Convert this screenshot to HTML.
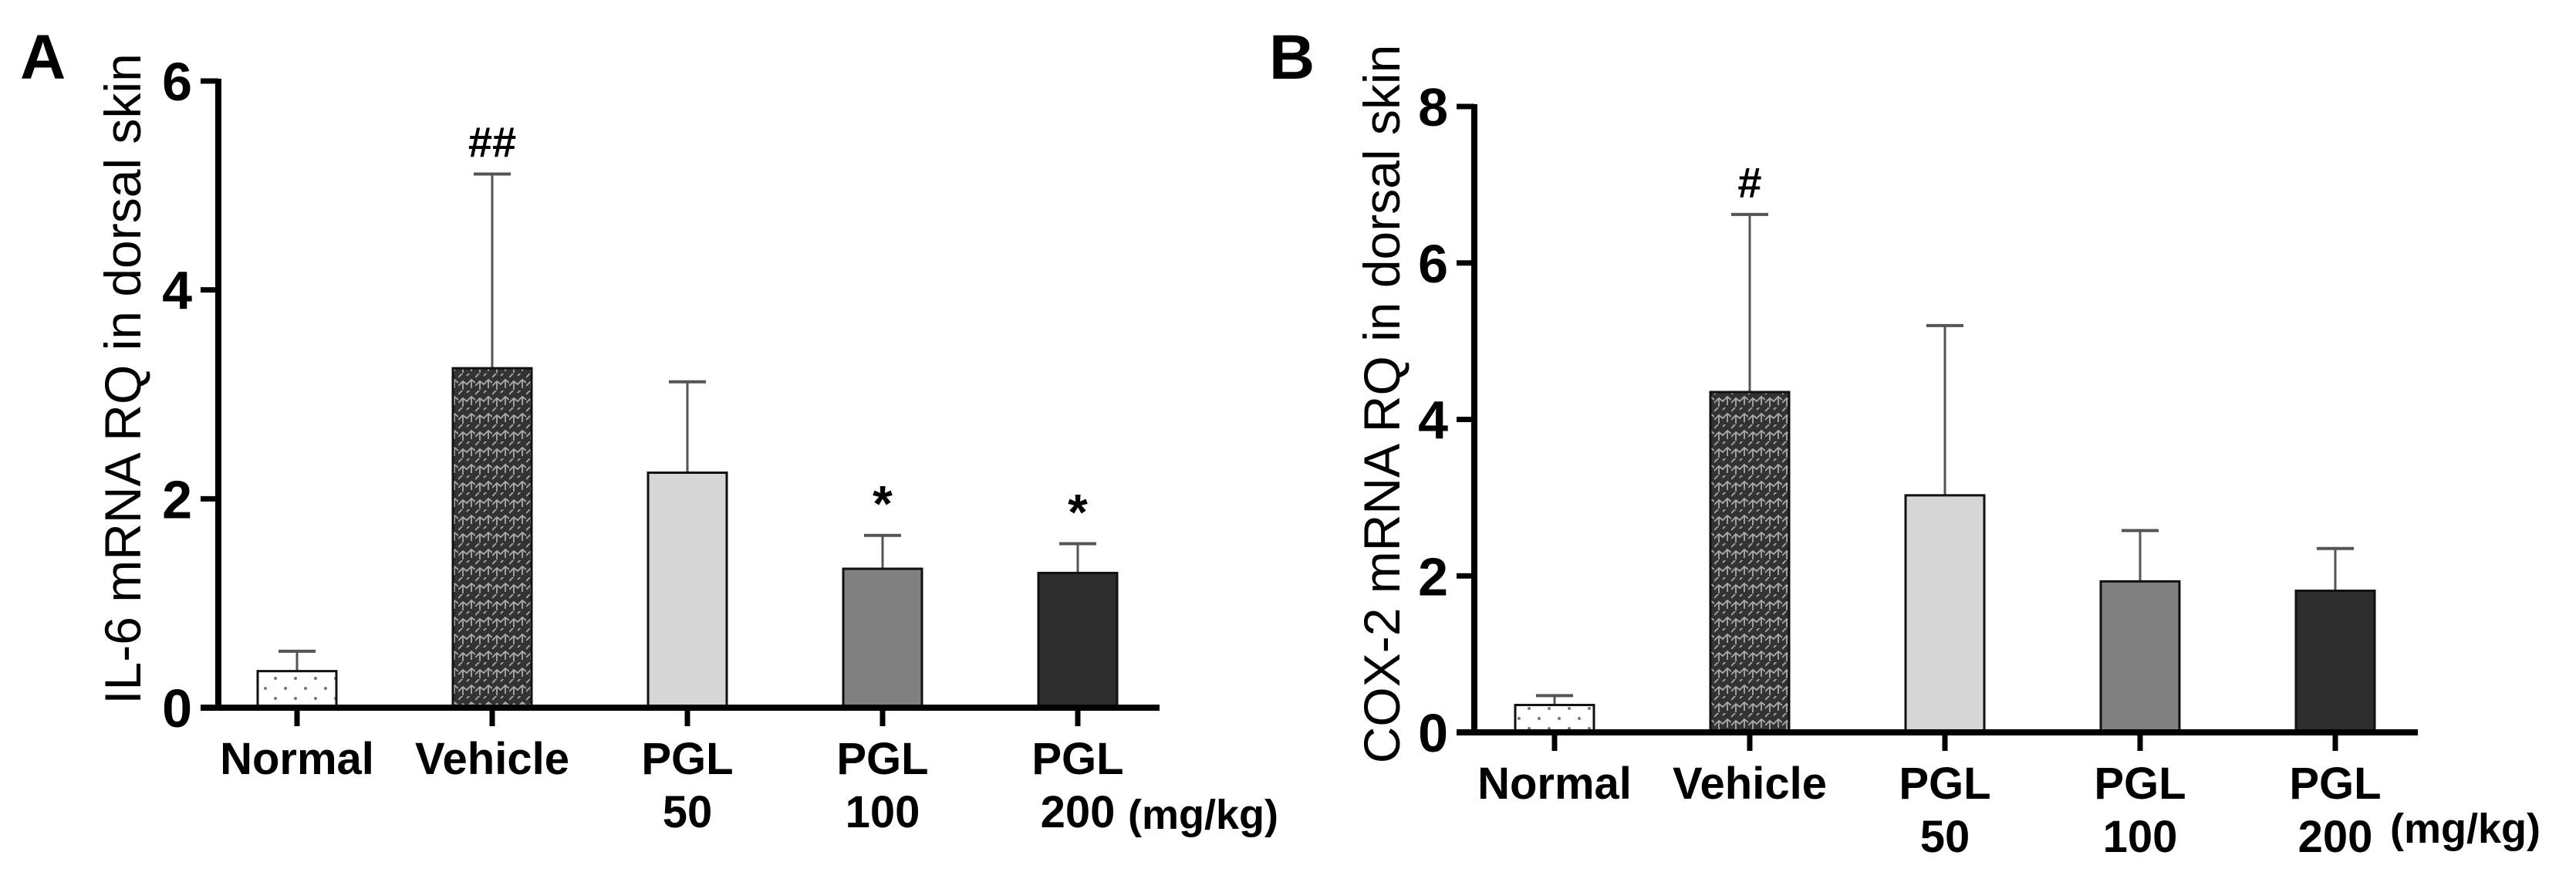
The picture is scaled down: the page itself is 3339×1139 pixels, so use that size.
<!DOCTYPE html>
<html><head><meta charset="utf-8"><style>
html,body{margin:0;padding:0;background:#fff;}
svg{display:block;font-family:"Liberation Sans",Arial,sans-serif;}
</style></head><body>
<svg id="chart" width="3339" height="1139" viewBox="0 0 3339 1139" xmlns="http://www.w3.org/2000/svg">
<defs>
<pattern id="dots" width="26" height="26" patternUnits="userSpaceOnUse">
<rect width="26" height="26" fill="#fff"/><circle cx="6" cy="8" r="2" fill="#777"/><circle cx="19" cy="21" r="2" fill="#777"/>
</pattern>
<pattern id="zig" width="22" height="22" patternUnits="userSpaceOnUse">
<rect width="22" height="22" fill="#333"/>
<path d="M0 16 L6 10 L11 14 L17 8 L22 12 M0 5 L6 -1 M11 3 L17 -3 M6 10 L6 21 M17 8 L17 19" stroke="#aaa" stroke-width="1.8" fill="none"/>
</pattern>
</defs>
<g id="pa"></g>
<g id="pb"></g>
</svg>
<script>
const categories = ["Normal","Vehicle","PGL 50","PGL 100","PGL 200"];
const il6Values = [0.35, 3.25, 2.25, 1.33, 1.29];
const il6Errors = [0.54, 5.11, 3.12, 1.65, 1.57];
const il6Marks = ["", "##", "", "*", "*"];
const il6Ticks = [0, 2, 4, 6];
const cox2Values = [0.35, 4.35, 3.03, 1.93, 1.81];
const cox2Errors = [0.47, 6.62, 5.2, 2.58, 2.35];
const cox2Marks = ["", "#", "", "", ""];
const cox2Ticks = [0, 2, 4, 6, 8];

const NS = "http://www.w3.org/2000/svg";
const fills = ["url(#dots)","url(#zig)","#d6d6d6","#808080","#2e2e2e"];
function mk(parent, tag, attrs, text){
  const e = document.createElementNS(NS, tag);
  for (const k in attrs) e.setAttribute(k, attrs[k]);
  if (text !== undefined) e.textContent = text;
  parent.appendChild(e);
  return e;
}
function panel(g, cfg, values, errors, marks, ticks){
  const yMax = ticks[ticks.length-1];
  const y = v => cfg.y0 - (cfg.y0 - cfg.yTop) * v / yMax;
  const x = i => cfg.x0 + i * cfg.step;
  let t = mk(g, "text", {x: cfg.lx, y: cfg.ly, "font-size": 82, "font-weight": "bold"}, cfg.letter);
  
  
  t = mk(g, "text", {x: 0, y: 0, "font-size": 66, "text-anchor": "middle", transform: `translate(${cfg.tx},${(cfg.yTop+cfg.y0)/2 - 20}) rotate(-90)`}, cfg.title);
  
  
  values.forEach((v, i) => {
    const cx = x(i);
    const top = y(v), et = y(errors[i]);
    let l = mk(g, "line", {x1: cx, y1: top, x2: cx, y2: et, stroke: "#555", "stroke-width": 3});
    
    
    l = mk(g, "line", {x1: cx-24, y1: et, x2: cx+24, y2: et, stroke: "#555", "stroke-width": 4});
    
    
    const r = mk(g, "rect", {x: cx-51, y: top, width: 102, height: cfg.y0 - top, fill: fills[i], stroke: "#111", "stroke-width": 3});
    
    
    if (marks[i]) {
      const m = mk(g, "text", {x: cx, y: marks[i].startsWith("#") ? et - 22 : et - 18, "font-size": marks[i].startsWith("#") ? 56 : 66, "font-weight": "bold", "text-anchor": "middle"}, marks[i]);
      
      
    }
    const tk = mk(g, "line", {x1: cx, y1: cfg.y0, x2: cx, y2: cfg.y0 + 24, stroke: "#000", "stroke-width": 7});
    
    
    const parts = categories[i].split(" ");
    const lb = mk(g, "text", {x: cx, y: cfg.y0 + 86, "font-size": 58, "font-weight": "bold", "text-anchor": "middle"}, parts[0]);
    
    
    if (parts[1]) {
      const lb2 = mk(g, "text", {x: cx, y: cfg.y0 + 155, "font-size": 58, "font-weight": "bold", "text-anchor": "middle"}, parts[1]);
      
      
    }
  });
  const u = mk(g, "text", {x: cfg.ux, y: cfg.y0 + cfg.uy, "font-size": 54, "font-weight": "bold"}, "(mg/kg)");
  
  
  ticks.forEach(tv => {
    const l = mk(g, "line", {x1: cfg.ax - 23, y1: y(tv), x2: cfg.ax, y2: y(tv), stroke: "#000", "stroke-width": 7});
    
    
    const tl = mk(g, "text", {x: cfg.ax - 34, y: y(tv) + 25, "font-size": 70, "font-weight": "bold", "text-anchor": "end"}, tv);
    
    
  });
  let a = mk(g, "line", {x1: cfg.ax, y1: cfg.yTop - 3, x2: cfg.ax, y2: cfg.y0 + 4, stroke: "#000", "stroke-width": 8});
  
  
  a = mk(g, "line", {x1: cfg.ax - 23, y1: cfg.y0, x2: cfg.xEnd, y2: cfg.y0, stroke: "#000", "stroke-width": 8});
  
  
}
panel(document.getElementById("pa"),
  {letter:"A", lx:26, ly:102, title:"IL-6 mRNA RQ in dorsal skin", tx:182, ax:283, yTop:105, y0:917, x0:385, step:253, xEnd:1503, ux:1462, uy:157},
  il6Values, il6Errors, il6Marks, il6Ticks);
panel(document.getElementById("pb"),
  {letter:"B", lx:1645, ly:102, title:"COX-2 mRNA RQ in dorsal skin", tx:1814, ax:1911, yTop:138, y0:949, x0:2015, step:253, xEnd:3134, ux:3098, uy:143},
  cox2Values, cox2Errors, cox2Marks, cox2Ticks);
</script>
</body></html>
